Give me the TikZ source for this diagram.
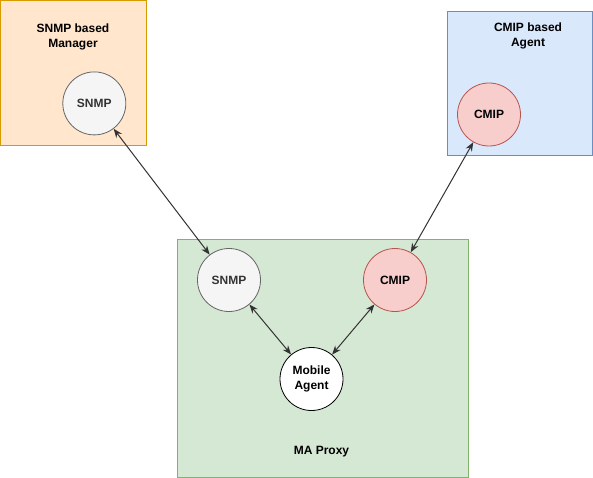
\documentclass[tikz,border=0pt]{standalone}
\usepackage{fontspec}
\setmainfont{Liberation Sans}
\usetikzlibrary{arrows.meta}
\definecolor{orfill}{HTML}{FFE6CC}\definecolor{ordraw}{HTML}{D79B00}
\definecolor{blfill}{HTML}{DAE8FC}\definecolor{bldraw}{HTML}{6C8EBF}
\definecolor{grfill}{HTML}{D5E8D4}\definecolor{grdraw}{HTML}{82B366}
\definecolor{gyfill}{HTML}{F5F5F5}\definecolor{gydraw}{HTML}{666666}\definecolor{gytext}{HTML}{333333}
\definecolor{rdfill}{HTML}{F8CECC}\definecolor{rddraw}{HTML}{B85450}
\definecolor{linec}{HTML}{333333}
\begin{document}
\begin{tikzpicture}[x=1pt,y=-1pt,
  lbl/.style={font=\fontsize{12}{15.5}\selectfont\bfseries, align=center, text=black},
  circ/.style={circle, minimum size=63pt, inner sep=0pt, line width=0.8pt, font=\fontsize{12}{15.5}\selectfont\bfseries, align=center},
  gycirc/.style={circ, fill=gyfill, draw=gydraw, text=gytext},
  rdcirc/.style={circ, fill=rdfill, draw=rddraw, text=black},
  whcirc/.style={circ, fill=white, draw=black, text=black},
  conn/.style={<->, >={Stealth[length=9pt,width=7pt]}, draw=linec, line width=1pt}
]
\useasboundingbox (0,0) rectangle (593,478);
\fill[white] (0,0) rectangle (593,478);
% boxes
\draw[fill=orfill, draw=ordraw, line width=0.8pt] (0.5,0.5) rectangle (146,145);
\draw[fill=blfill, draw=bldraw, line width=0.8pt] (447,11) rectangle (592,155);
\draw[fill=grfill, draw=grdraw, line width=0.8pt] (177,239) rectangle (468,477);
% labels
\node[lbl] (mgr) at (73,37) {SNMP based\\Manager};
\node[lbl] (agt) at (528,36) {CMIP based\\Agent};
\node[lbl] (prx) at (321.5,452) {MA Proxy};
% circles
\node[gycirc] (snmpA) at (94.3,103.4) {SNMP};
\node[rdcirc] (cmipA) at (489,114.5) {CMIP};
\node[gycirc] (snmpB) at (229,280) {SNMP};
\node[rdcirc] (cmipB) at (395,280) {CMIP};
\node[whcirc] (mob) at (311.5,379) {Mobile\\Agent};
% connectors
\draw[conn] (snmpA) -- (snmpB);
\draw[conn] (cmipA) -- (cmipB);
\draw[conn] (snmpB) -- (mob);
\draw[conn] (cmipB) -- (mob);
\end{tikzpicture}
\end{document}
